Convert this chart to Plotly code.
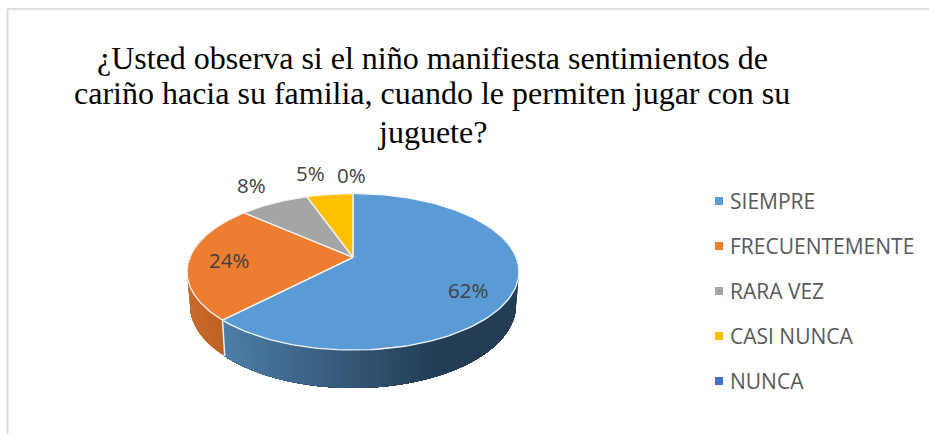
import numpy as np
import plotly.graph_objects as go

categorias = ["SIEMPRE", "FRECUENTEMENTE", "RARA VEZ", "CASI NUNCA", "NUNCA"]
valores = [62.2, 24.3, 8.1, 5.4, 0.0]
colores = ["#5B9BD5", "#ED7D31", "#A5A5A5", "#FFC000", "#4472C4"]
titulo = [
    "¿Usted observa si el niño manifiesta sentimientos de",
    "cariño hacia su familia, cuando le permiten jugar con su",
    "juguete?",
]

# posiciones de las etiquetas de porcentaje, en pixeles
pos_etiquetas = [(468, 290), (229, 260), (251, 185), (310, 173), (351, 175)]
pos_leyenda = [201, 246, 291, 336, 381]

# proyeccion de la tapa y de la base del pastel
CX = 353
K = 0.185


def tapa(theta):
    w = 1 + K * np.cos(theta)
    return CX + 163.1 * np.sin(theta) / w, 257.3 - 75.6 * np.cos(theta) / w


def base(theta):
    w = 1 + K * np.cos(theta)
    return CX + 160.2 * np.sin(theta) / w, 289.6 - 80.2 * np.cos(theta) / w


def tono_pared(i, x):
    # degradado de la pared lateral segun la posicion horizontal
    if i == 0:
        f = np.clip((x - 226) / 215, 0, 1)
        c0, c1 = (78, 126, 168), (35, 61, 85)
    else:
        f = np.clip((x - 190) / 36, 0, 1)
        c0, c1 = (200, 108, 44), (190, 98, 36)
    return "rgb(%d,%d,%d)" % tuple(a + (b - a) * f for a, b in zip(c0, c1))


fig = go.Figure()

angulos = np.concatenate([[0], np.cumsum(valores)]) / sum(valores) * 2 * np.pi

# pared lateral, cada tira llega hasta el final de la porcion para que no se vean cortes
for i in [0, 1]:
    ini = max(angulos[i], np.radians(70))
    fin = min(angulos[i + 1], np.radians(292))
    for a in np.arange(ini, fin, np.radians(2)):
        t = np.linspace(a, fin, 40)
        xt, yt = tapa(t)
        xb, yb = base(t[::-1])
        color = tono_pared(i, (tapa(a)[0] + base(a)[0]) / 2)
        fig.add_trace(go.Scatter(
            x=list(xt) + list(xb), y=list(yt) + list(yb), mode="none",
            fill="toself", fillcolor=color, hoverinfo="skip"))

# separacion blanca entre las paredes
x_sep, y_sep = zip(tapa(angulos[1]), base(angulos[1]))
fig.add_trace(go.Scatter(x=x_sep, y=y_sep, mode="lines", line=dict(color="#E8EEF4", width=1.5), hoverinfo="skip"))

# tapa del pastel
for i, cat in enumerate(categorias):
    if valores[i] == 0:
        continue
    t = np.linspace(angulos[i], angulos[i + 1], 120)
    xs, ys = tapa(t)
    fig.add_trace(go.Scatter(
        x=[CX] + list(xs) + [CX], y=[257.3] + list(ys) + [257.3], mode="lines",
        fill="toself", fillcolor=colores[i], line=dict(color="#F4F7FA", width=1.3),
        name=cat, hovertemplate=cat + ": %.0f%%<extra></extra>" % valores[i]))

# cuadritos de la leyenda
fig.add_trace(go.Scatter(
    x=[719] * len(categorias), y=pos_leyenda, mode="markers",
    marker=dict(symbol="square", size=8, color=colores), hoverinfo="skip"))

anotaciones = []
for texto, yy in zip(titulo, [58, 93, 132]):
    anotaciones.append(dict(x=432, y=yy, text=texto, showarrow=False, xanchor="center", yanchor="middle",
                            font=dict(family="Liberation Serif", size=32, color="#000000")))
for v, (xx, yy) in zip(valores, pos_etiquetas):
    anotaciones.append(dict(x=xx, y=yy, text="%.0f%%" % v, showarrow=False, xanchor="center", yanchor="middle",
                            font=dict(family="Open Sans", size=20.5, color="#404040")))
for cat, yy in zip(categorias, pos_leyenda):
    anotaciones.append(dict(x=728, y=yy, text=cat, showarrow=False, xanchor="left", yanchor="middle",
                            font=dict(family="Open Sans", size=21, color="#595959")))

# marco gris de arriba y de la izquierda
marco = [
    dict(type="line", x0=7.5, y0=9, x1=929, y1=9, line=dict(color="#DDDDDD", width=2)),
    dict(type="line", x0=7.5, y0=9, x1=7.5, y1=434, line=dict(color="#DDDDDD", width=2)),
]

fig.update_layout(
    width=929, height=434, autosize=False,
    margin=dict(l=0, r=0, t=0, b=0),
    paper_bgcolor="white", plot_bgcolor="white",
    showlegend=False,
    xaxis=dict(range=[0, 929], visible=False, fixedrange=True),
    yaxis=dict(range=[434, 0], visible=False, fixedrange=True),
    annotations=anotaciones,
    shapes=marco,
)

fig.write_html("out.html", post_script="document.body.style.margin='0';", config=dict(displayModeBar=False))
